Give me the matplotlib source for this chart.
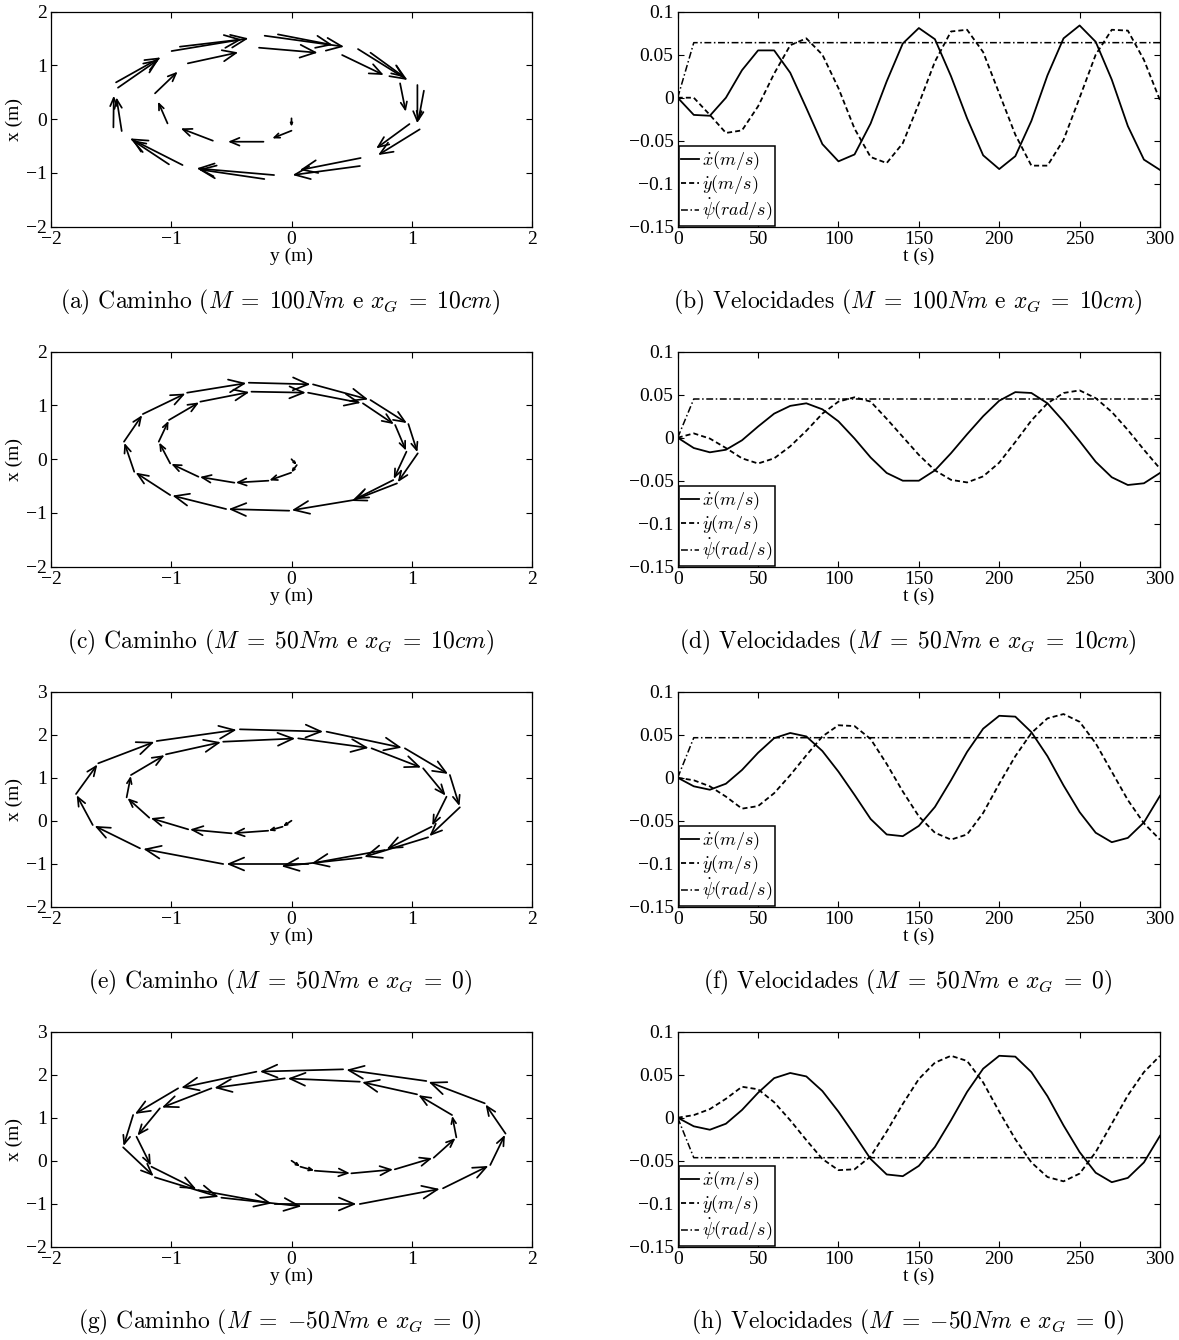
import numpy as np
import matplotlib
matplotlib.use('Agg')
import matplotlib.pyplot as plt

plt.rcParams['font.family'] = 'serif'
plt.rcParams['font.serif'] = ['Liberation Serif', 'DejaVu Serif']
plt.rcParams['mathtext.fontset'] = 'cm'

# tempo de simulacao (amostras a cada 10 s)
t = np.arange(0, 301, 10)

# (b) M = 100Nm, xG = 10cm
b_xdot = [0, -0.020, -0.021, 0.0, 0.032, 0.055, 0.055, 0.029, -0.012, -0.054, -0.074,
          -0.066, -0.030, 0.019, 0.063, 0.081, 0.068, 0.025, -0.024, -0.067, -0.083,
          -0.068, -0.027, 0.026, 0.069, 0.084, 0.065, 0.021, -0.033, -0.072, -0.084]
b_ydot = [0, 0.0, -0.020, -0.041, -0.038, -0.010, 0.028, 0.061, 0.069, 0.050, 0.011,
          -0.036, -0.069, -0.076, -0.053, -0.007, 0.042, 0.077, 0.079, 0.053, 0.005,
          -0.043, -0.079, -0.079, -0.049, 0.0, 0.050, 0.079, 0.078, 0.044, -0.003]
b_psidot = [0.0] + [0.064] * 30

# (d) M = 50Nm, xG = 10cm
d_xdot = [0, -0.012, -0.017, -0.014, -0.003, 0.013, 0.028, 0.037, 0.040, 0.033, 0.019,
          -0.001, -0.023, -0.041, -0.050, -0.050, -0.038, -0.018, 0.004, 0.025, 0.043,
          0.053, 0.052, 0.040, 0.019, -0.004, -0.028, -0.046, -0.055, -0.053, -0.041]
d_ydot = [0, 0.005, -0.001, -0.012, -0.024, -0.030, -0.024, -0.010, 0.008, 0.028, 0.042,
          0.047, 0.042, 0.022, 0.001, -0.020, -0.038, -0.049, -0.052, -0.045, -0.029,
          -0.005, 0.020, 0.040, 0.052, 0.055, 0.046, 0.030, 0.009, -0.014, -0.036]
d_psidot = [0.0] + [0.045] * 30

# (f) M = 50Nm, xG = 0
f_xdot = [0, -0.010, -0.014, -0.007, 0.009, 0.029, 0.046, 0.052, 0.048, 0.031, 0.007,
          -0.020, -0.048, -0.066, -0.068, -0.056, -0.034, -0.003, 0.030, 0.057, 0.072,
          0.071, 0.053, 0.025, -0.009, -0.040, -0.064, -0.075, -0.070, -0.052, -0.021]
f_ydot = [0, -0.003, -0.010, -0.022, -0.036, -0.033, -0.018, 0.003, 0.026, 0.048, 0.061,
          0.060, 0.045, 0.016, -0.016, -0.045, -0.064, -0.072, -0.066, -0.041, -0.007,
          0.025, 0.052, 0.069, 0.074, 0.065, 0.040, 0.007, -0.026, -0.053, -0.072]
f_psidot = [0.0] + [0.0465] * 30

# (h) M = -50Nm, xG = 0
h_xdot = [0, -0.010, -0.014, -0.007, 0.009, 0.029, 0.046, 0.052, 0.048, 0.031, 0.007,
          -0.020, -0.048, -0.066, -0.068, -0.056, -0.034, -0.003, 0.030, 0.057, 0.072,
          0.071, 0.053, 0.025, -0.009, -0.040, -0.064, -0.075, -0.070, -0.052, -0.021]
h_ydot = [0, 0.003, 0.010, 0.022, 0.036, 0.033, 0.018, -0.003, -0.026, -0.048, -0.061,
          -0.060, -0.045, -0.016, 0.016, 0.045, 0.064, 0.072, 0.066, 0.041, 0.007,
          -0.025, -0.052, -0.069, -0.074, -0.065, -0.040, -0.007, 0.026, 0.053, 0.072]
h_psidot = [0.0] + [-0.0465] * 30

# (a) setas do caminho: origem e ponta (y, x)
a_tail_y = [0.00, 0.00, -0.233, -0.654, -1.031, -1.135, -0.862, -0.270, 0.421, 0.903,
            0.981, 0.575, -0.145, -0.906, -1.481, -1.459, -0.997, -0.223, 0.553, 1.047,
            1.066, 0.569, -0.226, -1.019, -1.412, -1.443, -0.928, -0.113, 0.657, 1.101]
a_tail_x = [0.016, -0.214, -0.419, -0.400, -0.078, 0.481, 1.039, 1.330, 1.194, 0.667,
            -0.090, -0.722, -1.039, -0.853, -0.152, 0.685, 1.268, 1.553, 1.305, 0.636,
            -0.189, -0.871, -1.113, -0.840, -0.220, 0.586, 1.349, 1.578, 1.237, 0.530]
a_head_y = [0.00, -0.160, -0.528, -0.921, -1.110, -0.947, -0.443, 0.217, 0.767, 0.950,
            0.704, 0.069, -0.789, -1.343, -1.478, -1.088, -0.358, 0.437, 0.965, 1.047,
            0.720, 0.009, -0.774, -1.324, -1.456, -1.104, -0.412, 0.343, 0.940, 1.053]
a_head_x = [-0.140, -0.357, -0.419, -0.171, 0.326, 0.884, 1.243, 1.237, 0.822, 0.140,
            -0.543, -0.946, -0.915, -0.357, 0.437, 1.150, 1.504, 1.349, 0.729, -0.078,
            -0.667, -1.039, -0.933, -0.388, 0.406, 1.113, 1.485, 1.380, 0.778, -0.047]

# (c) pontos do caminho
c_y = [0.0, 0.044, -0.003, -0.192, -0.475, -0.774, -1.009, -1.104, -1.019, -0.758, -0.333,
       0.138, 0.594, 0.862, 0.956, 0.846, 0.516, -0.019, -0.544, -1.009, -1.308,
       -1.393, -1.236, -0.868, -0.355, 0.179, 0.657, 0.972, 1.050, 0.877, 0.484]
c_x = [0.0, -0.109, -0.251, -0.400, -0.437, -0.326, -0.078, 0.326, 0.729, 1.070, 1.256,
       1.237, 1.039, 0.636, 0.140, -0.388, -0.760, -0.958, -0.927, -0.667, -0.233,
       0.326, 0.840, 1.237, 1.423, 1.392, 1.101, 0.654, 0.109, -0.450, -0.791]

# (e) pontos do caminho
e_y = [0.0, -0.074, -0.194, -0.498, -0.859, -1.183, -1.371, -1.335, -1.044, -0.568, 0.056,
       0.666, 1.095, 1.289, 1.165, 0.776, 0.139, -0.568, -1.260, -1.653, -1.792,
       -1.607, -1.121, -0.429, 0.292, 0.943, 1.317, 1.400, 1.136, 0.583, -0.111]
e_x = [0.0, -0.140, -0.233, -0.294, -0.201, 0.070, 0.543, 1.062, 1.543, 1.837, 1.915,
       1.683, 1.218, 0.558, -0.140, -0.682, -1.007, -1.007, -0.642, -0.100, 0.621,
       1.335, 1.853, 2.125, 2.070, 1.683, 1.063, 0.311, -0.386, -0.860, -1.070]

# (g) pontos do caminho
g_y = [0.0, 0.074, 0.194, 0.498, 0.859, 1.183, 1.371, 1.335, 1.044, 0.568, -0.056,
       -0.666, -1.095, -1.289, -1.165, -0.776, -0.139, 0.568, 1.260, 1.653, 1.780,
       1.607, 1.121, 0.429, -0.292, -0.943, -1.317, -1.400, -1.136, -0.583, 0.111]
g_x = [0.0, -0.140, -0.233, -0.294, -0.201, 0.070, 0.543, 1.062, 1.543, 1.837, 1.915,
       1.683, 1.218, 0.558, -0.140, -0.682, -1.007, -1.007, -0.642, -0.100, 0.630,
       1.335, 1.853, 2.125, 2.070, 1.683, 1.063, 0.311, -0.386, -0.860, -1.070]

captions_left = [r'(a) Caminho ($M\;=\;100Nm$ e $x_G\;=\;10cm$)',
                 r'(c) Caminho ($M\;=\;50Nm$ e $x_G\;=\;10cm$)',
                 r'(e) Caminho ($M\;=\;50Nm$ e $x_G\;=\;0$)',
                 r'(g) Caminho ($M\;=\;{-}50Nm$ e $x_G\;=\;0$)']
captions_right = [r'(b) Velocidades ($M\;=\;100Nm$ e $x_G\;=\;10cm$)',
                  r'(d) Velocidades ($M\;=\;50Nm$ e $x_G\;=\;10cm$)',
                  r'(f) Velocidades ($M\;=\;50Nm$ e $x_G\;=\;0$)',
                  r'(h) Velocidades ($M\;=\;{-}50Nm$ e $x_G\;=\;0$)']
legend_labels = [r'$\dot{x}(m/s)$', r'$\dot{y}(m/s)$', r'$\dot{\psi}(rad/s)$']

W, H = 1179, 1340
fig = plt.figure(figsize=(W / 100, H / 100), dpi=100)


def fmt(v):
    return ('%g' % v).replace('-', '\u2212')


def style_axes(ax):
    ax.tick_params(direction='in', top=True, right=True, length=4.5, width=0.8,
                   labelsize=14, pad=3)
    for s in ax.spines.values():
        s.set_linewidth(0.9)


def arrows(ax, y0, x0, y1, x1):
    for a, b, c, d in zip(y0, x0, y1, x1):
        p0 = ax.transData.transform((a, b))
        p1 = ax.transData.transform((c, d))
        L = np.hypot(*(p1 - p0))
        if L < 0.5:
            continue
        hl = min(0.26 * L * 72 / fig.dpi, 11)
        hw = 0.42 * hl
        ax.annotate('', xy=(c, d), xytext=(a, b),
                    arrowprops=dict(arrowstyle='->,head_length=%.2f,head_width=%.2f' % (hl, hw),
                                    lw=1.25, color='k', shrinkA=0, shrinkB=0,
                                    mutation_scale=1))


def path_axes(row, xtop):
    bottom = 1 - (226.7 + 340 * row) / H
    ax = fig.add_axes([51 / W, bottom, 481 / W, 215 / H])
    ax.set_xlim(-2, 2)
    ax.set_ylim(-2, xtop)
    ax.set_xticks(range(-2, 3))
    ax.set_xticklabels([fmt(v) for v in range(-2, 3)])
    ax.set_yticks(range(-2, xtop + 1))
    ax.set_yticklabels([fmt(v) for v in range(-2, xtop + 1)])
    ax.set_xlabel('y (m)', fontsize=14, labelpad=0)
    ax.set_ylabel('x (m)', fontsize=14, labelpad=2)
    style_axes(ax)
    return ax


def vel_axes(row, xd, yd, pd):
    bottom = 1 - (226.7 + 340 * row) / H
    ax = fig.add_axes([677.7 / W, bottom, 482.3 / W, 215 / H])
    ax.plot(t, xd, color='k', lw=1.3, label=legend_labels[0])
    ax.plot(t, yd, color='k', lw=1.3, ls=(0, (2.8, 1.7)), label=legend_labels[1])
    ax.plot(t, pd, color='k', lw=1.1, ls=(0, (4.5, 1.7, 1, 1.7)), label=legend_labels[2])
    ax.set_xlim(0, 300)
    ax.set_ylim(-0.15, 0.1)
    xt = list(range(0, 301, 50))
    yt = [-0.15, -0.1, -0.05, 0, 0.05, 0.1]
    ax.set_xticks(xt)
    ax.set_xticklabels([fmt(v) for v in xt])
    ax.set_yticks(yt)
    ax.set_yticklabels([fmt(v) for v in yt])
    ax.set_xlabel('t (s)', fontsize=14, labelpad=0)
    style_axes(ax)
    leg = ax.legend(loc='lower left', fontsize=13, handlelength=1.0, handletextpad=0.15,
                    labelspacing=0.05, borderpad=0.15, borderaxespad=0.05,
                    fancybox=False, framealpha=1, edgecolor='k')
    leg.get_frame().set_linewidth(1.1)
    return ax


# caminhos
ax = path_axes(0, 2)
arrows(ax, a_tail_y, a_tail_x, a_head_y, a_head_x)

for row, (py, px, top) in enumerate([(c_y, c_x, 2), (e_y, e_x, 3), (g_y, g_x, 3)], start=1):
    ax = path_axes(row, top)
    py = np.array(py)
    px = np.array(px)
    arrows(ax, py[:-1], px[:-1],
           py[:-1] + 0.96 * np.diff(py), px[:-1] + 0.96 * np.diff(px))

# velocidades
vel_axes(0, b_xdot, b_ydot, b_psidot)
vel_axes(1, d_xdot, d_ydot, d_psidot)
vel_axes(2, f_xdot, f_ydot, f_psidot)
vel_axes(3, h_xdot, h_ydot, h_psidot)

for row in range(4):
    yc = 1 - (302 + 340 * row) / H
    fig.text(280 / W, yc, captions_left[row], ha='center', va='center',
             fontsize=17, family='cmr10')
    fig.text(908 / W, yc, captions_right[row], ha='center', va='center',
             fontsize=17, family='cmr10')

fig.savefig('out.png', dpi=100)
